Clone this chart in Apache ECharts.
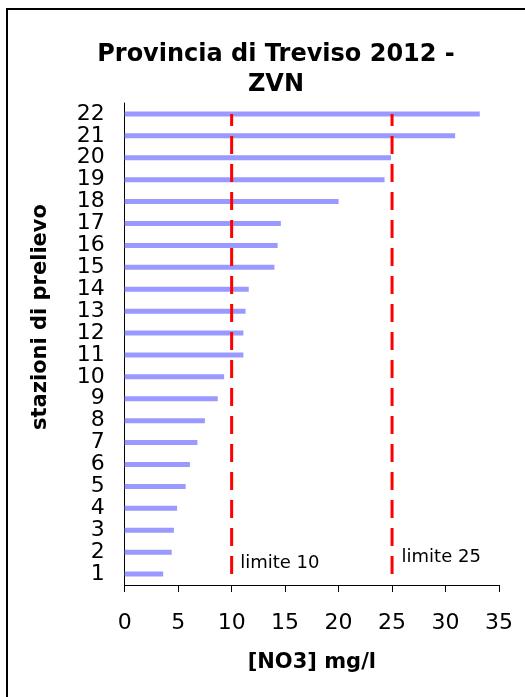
<!DOCTYPE html>
<html>
<head>
<meta charset="utf-8">
<script src="https://cdn.jsdelivr.net/npm/echarts@6/dist/echarts.min.js"></script>
<style>
  html, body { margin: 0; padding: 0; background: #fff; }
  #chart { width: 525px; height: 697px; }
</style>
</head>
<body>
<div id="chart"></div>
<script>
// Stations (category axis) and nitrate concentration per station, mg/l
var stations = ['1','2','3','4','5','6','7','8','9','10','11','12','13','14','15','16','17','18','19','20','21','22'];
var no3 = [3.6, 4.4, 4.6, 4.9, 5.7, 6.1, 6.8, 7.5, 8.7, 9.3, 11.1, 11.1, 11.3, 11.6, 14.0, 14.3, 14.6, 20.0, 24.3, 24.9, 30.9, 33.2];

// Reference limits drawn as vertical dashed lines
var limits = [10, 25];
var limitLabels = ['limite 10', 'limite 25'];
var limitSpan = [0.5, 21.5];   // extent of the limit lines on the helper axis (0..22)

var xTicks = { min: 0, max: 35, interval: 5 };

var FONT = 'DejaVu Sans';

var chart = echarts.init(document.getElementById('chart'), null, { renderer: 'canvas' });

var limitSeries = limits.map(function (v, i) {
  var offsets = [[0, -11], [0, -17]];
  var dist = [8, 9];
  return {
    type: 'line',
    xAxisIndex: 0,
    yAxisIndex: 1,
    data: [
      { value: [v, limitSpan[0]], label: {
          show: true, position: 'right', distance: dist[i], offset: offsets[i],
          formatter: limitLabels[i], color: '#000', fontFamily: FONT, fontSize: 18 } },
      { value: [v, limitSpan[1]], label: { show: false } }
    ],
    symbol: 'circle',
    symbolSize: 1,
    showSymbol: true,
    itemStyle: { color: 'rgba(255,0,0,0)' },
    silent: true,
    lineStyle: { color: '#ff0000', width: 3, type: [18, 10], cap: 'butt' },
    z: 3
  };
});

chart.setOption({
  animation: false,
  backgroundColor: '#ffffff',
  title: {
    text: 'Provincia di Treviso 2012 -\nZVN',
    left: 271,
    top: 35,
    textAlign: 'center',
    textStyle: { fontFamily: FONT, fontWeight: 'bold', fontSize: 24, lineHeight: 30, color: '#000' }
  },
  graphic: [
    {
      type: 'rect',
      shape: { x: 7, y: 9, width: 700, height: 900 },
      style: { fill: 'none', stroke: '#000', lineWidth: 2 },
      silent: true
    },
    {
      type: 'text',
      x: 41, y: 317,
      rotation: Math.PI / 2,
      style: {
        text: 'stazioni di prelievo',
        fontFamily: FONT, fontWeight: 'bold', fontSize: 21,
        fill: '#000', align: 'center', verticalAlign: 'middle'
      },
      silent: true
    }
  ],
  grid: { left: 124.7, top: 103, width: 374.3, height: 482, containLabel: false },
  xAxis: {
    type: 'value',
    min: xTicks.min, max: xTicks.max, interval: xTicks.interval,
    name: '[NO3] mg/l',
    nameLocation: 'middle',
    nameGap: 67,
    nameTextStyle: { fontFamily: FONT, fontWeight: 'bold', fontSize: 21, color: '#000' },
    axisLine: { show: true, lineStyle: { color: '#000', width: 1 } },
    axisTick: { show: true, length: 7, inside: false, lineStyle: { color: '#000' } },
    axisLabel: { margin: 27, fontFamily: FONT, fontSize: 22, color: '#000' },
    splitLine: { show: false }
  },
  yAxis: [
    {
      type: 'category',
      data: stations,
      axisLine: { show: true, lineStyle: { color: '#000', width: 1 } },
      axisTick: { show: false },
      axisLabel: { margin: 20, fontFamily: FONT, fontSize: 22, color: '#000', interval: 0, lineHeight: 22 },
      splitLine: { show: false }
    },
    {
      type: 'value',
      min: 0, max: 22,
      show: false
    }
  ],
  series: [
    {
      type: 'bar',
      xAxisIndex: 0,
      yAxisIndex: 0,
      data: no3,
      barWidth: 5,
      itemStyle: { color: '#9999ff' },
      silent: true,
      z: 2
    }
  ].concat(limitSeries)
});
</script>
</body>
</html>
